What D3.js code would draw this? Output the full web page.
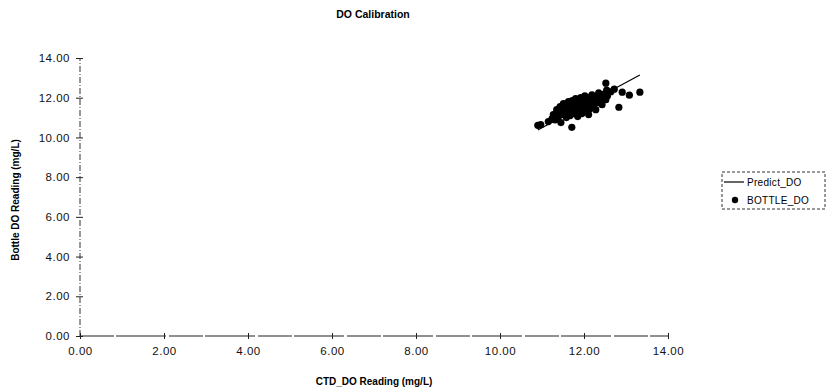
<!DOCTYPE html>
<html>
<head>
<meta charset="utf-8">
<script src="https://cdn.jsdelivr.net/npm/d3@7"></script>
<style>
  html, body { margin: 0; padding: 0; background: #fff; }
  svg { display: block; font-family: "Liberation Sans", Arial, Helvetica, sans-serif; }
</style>
</head>
<body>
<svg id="chart" width="833" height="391"></svg>
<script>
// Axis tick values
const xTicks = [0, 2, 4, 6, 8, 10, 12, 14];
const yTicks = [0, 2, 4, 6, 8, 10, 12, 14];

// Bottle DO sample readings against CTD readings (mg/L)
const ctdDO = [
  10.90, 10.97, 11.15, 11.24, 11.27, 11.31, 11.33, 11.35, 11.39, 11.40,
  11.43, 11.45, 11.47, 11.49, 11.51, 11.71, 11.58, 11.60, 11.61, 11.63,
  11.67, 11.68, 11.71, 11.72, 11.76, 11.77, 11.79, 11.80, 11.85, 11.87,
  11.88, 11.90, 11.92, 11.95, 11.96, 11.99, 12.00, 12.02, 12.04, 12.06,
  12.08, 12.10, 12.11, 12.14, 12.16, 12.17, 12.19, 12.22, 12.24, 12.26,
  12.28, 12.31, 12.33, 12.35, 12.39, 12.40, 12.43, 12.47, 12.49, 12.52,
  12.54, 12.56, 12.64, 12.52, 12.72, 12.91, 12.83, 13.08, 13.33
];
const bottleDO = [
  10.61, 10.64, 10.80, 10.95, 11.15, 10.88, 11.20, 11.40, 11.05, 11.30,
  11.55, 10.75, 11.15, 11.40, 11.70, 10.51, 11.00, 11.25, 11.50, 11.80,
  11.10, 11.35, 11.60, 11.85, 11.20, 11.45, 11.70, 11.95, 11.05, 11.30,
  11.55, 11.80, 12.00, 11.20, 11.45, 11.65, 11.90, 12.10, 11.35, 11.55,
  11.80, 12.00, 11.15, 11.45, 11.70, 11.90, 12.15, 11.60, 11.85, 12.05,
  11.40, 11.75, 12.00, 12.25, 11.85, 12.13, 11.65, 11.95, 12.20, 11.90,
  12.38, 12.10, 12.30, 12.73, 12.43, 12.28, 11.52, 12.13, 12.28
];

// Fitted calibration line end points
const predictX = [10.90, 13.33];
const predictY = [10.37, 13.14];

const legendLabels = ["Predict_DO", "BOTTLE_DO"];

const svg = d3.select("#chart");

const x = d3.scaleLinear().domain([0, 14]).range([80, 668]);
const y = d3.scaleLinear().domain([0, 14]).range([336, 58]);

const tickFont = "Liberation Sans, Arial, sans-serif";

// Title
svg.append("text")
  .attr("x", 373).attr("y", 18)
  .attr("text-anchor", "middle")
  .attr("font-size", 10.5).attr("font-weight", "bold")
  .text("DO Calibration");

// Y axis
const yAxis = svg.append("g")
  .attr("transform", `translate(${x(0)},0)`)
  .call(d3.axisLeft(y).tickValues(yTicks).tickFormat(d3.format(".2f")).tickSize(0).tickPadding(10));
yAxis.select(".domain").remove();
yAxis.selectAll("text").attr("font-size", 11.5).attr("fill", "#111")
  .attr("letter-spacing", 0.5).attr("font-family", tickFont);
yAxis.append("line")
  .attr("x1", 0).attr("x2", 0)
  .attr("y1", y(0)).attr("y2", y(14))
  .attr("stroke", "#333").attr("stroke-width", 1)
  .attr("stroke-dasharray", "6,2,1,2");
yAxis.selectAll(".tick").append("line")
  .attr("x1", -4).attr("x2", 3)
  .attr("stroke", "#222");

// X axis
const xAxis = svg.append("g")
  .attr("transform", `translate(0,${y(0)})`)
  .call(d3.axisBottom(x).tickValues(xTicks).tickFormat(d3.format(".2f")).tickSize(0).tickPadding(11));
xAxis.select(".domain").remove();
xAxis.selectAll("text").attr("font-size", 11.5).attr("fill", "#111")
  .attr("letter-spacing", 0.5).attr("font-family", tickFont);
xAxis.append("line")
  .attr("x1", x(0)).attr("x2", x(14))
  .attr("y1", 0).attr("y2", 0)
  .attr("stroke", "#222").attr("stroke-width", 1.2)
  .attr("stroke-dasharray", "34,2,50,3");
xAxis.selectAll(".tick").append("line")
  .attr("y1", -3).attr("y2", 3)
  .attr("stroke", "#222");

// Axis titles
svg.append("text")
  .attr("x", (x(0) + x(14)) / 2).attr("y", 385)
  .attr("text-anchor", "middle")
  .attr("font-size", 10).attr("font-weight", "bold")
  .text("CTD_DO Reading (mg/L)");

svg.append("text")
  .attr("transform", `translate(19,${(y(0) + y(14)) / 2 + 3}) rotate(-90)`)
  .attr("text-anchor", "middle")
  .attr("font-size", 10).attr("font-weight", "bold")
  .text("Bottle DO Reading (mg/L)");

// Bottle sample points
svg.append("g")
  .selectAll("circle")
  .data(ctdDO.map((c, i) => [c, bottleDO[i]]))
  .join("circle")
  .attr("cx", d => x(d[0]))
  .attr("cy", d => y(d[1]))
  .attr("r", 3.6)
  .attr("fill", "#000");

// Predicted line
svg.append("path")
  .datum(predictX.map((v, i) => [v, predictY[i]]))
  .attr("fill", "none")
  .attr("stroke", "#000")
  .attr("stroke-width", 1.2)
  .attr("d", d3.line().x(d => x(d[0])).y(d => y(d[1])));

// Legend
const lg = svg.append("g").attr("transform", "translate(722,172)");
lg.append("rect")
  .attr("x", 0).attr("y", 0).attr("width", 103).attr("height", 37)
  .attr("fill", "none").attr("stroke", "#333").attr("stroke-width", 1)
  .attr("stroke-dasharray", "3,2");
lg.append("line")
  .attr("x1", 2).attr("x2", 22).attr("y1", 10).attr("y2", 10)
  .attr("stroke", "#000").attr("stroke-width", 1.2);
lg.append("circle")
  .attr("cx", 13).attr("cy", 28).attr("r", 3.2).attr("fill", "#000");
lg.selectAll("text.lab")
  .data(legendLabels)
  .join("text")
  .attr("class", "lab")
  .attr("x", 25)
  .attr("y", (d, i) => 14 + i * 18)
  .attr("font-size", 10)
  .attr("letter-spacing", 0.3)
  .text(d => d);
</script>
</body>
</html>
